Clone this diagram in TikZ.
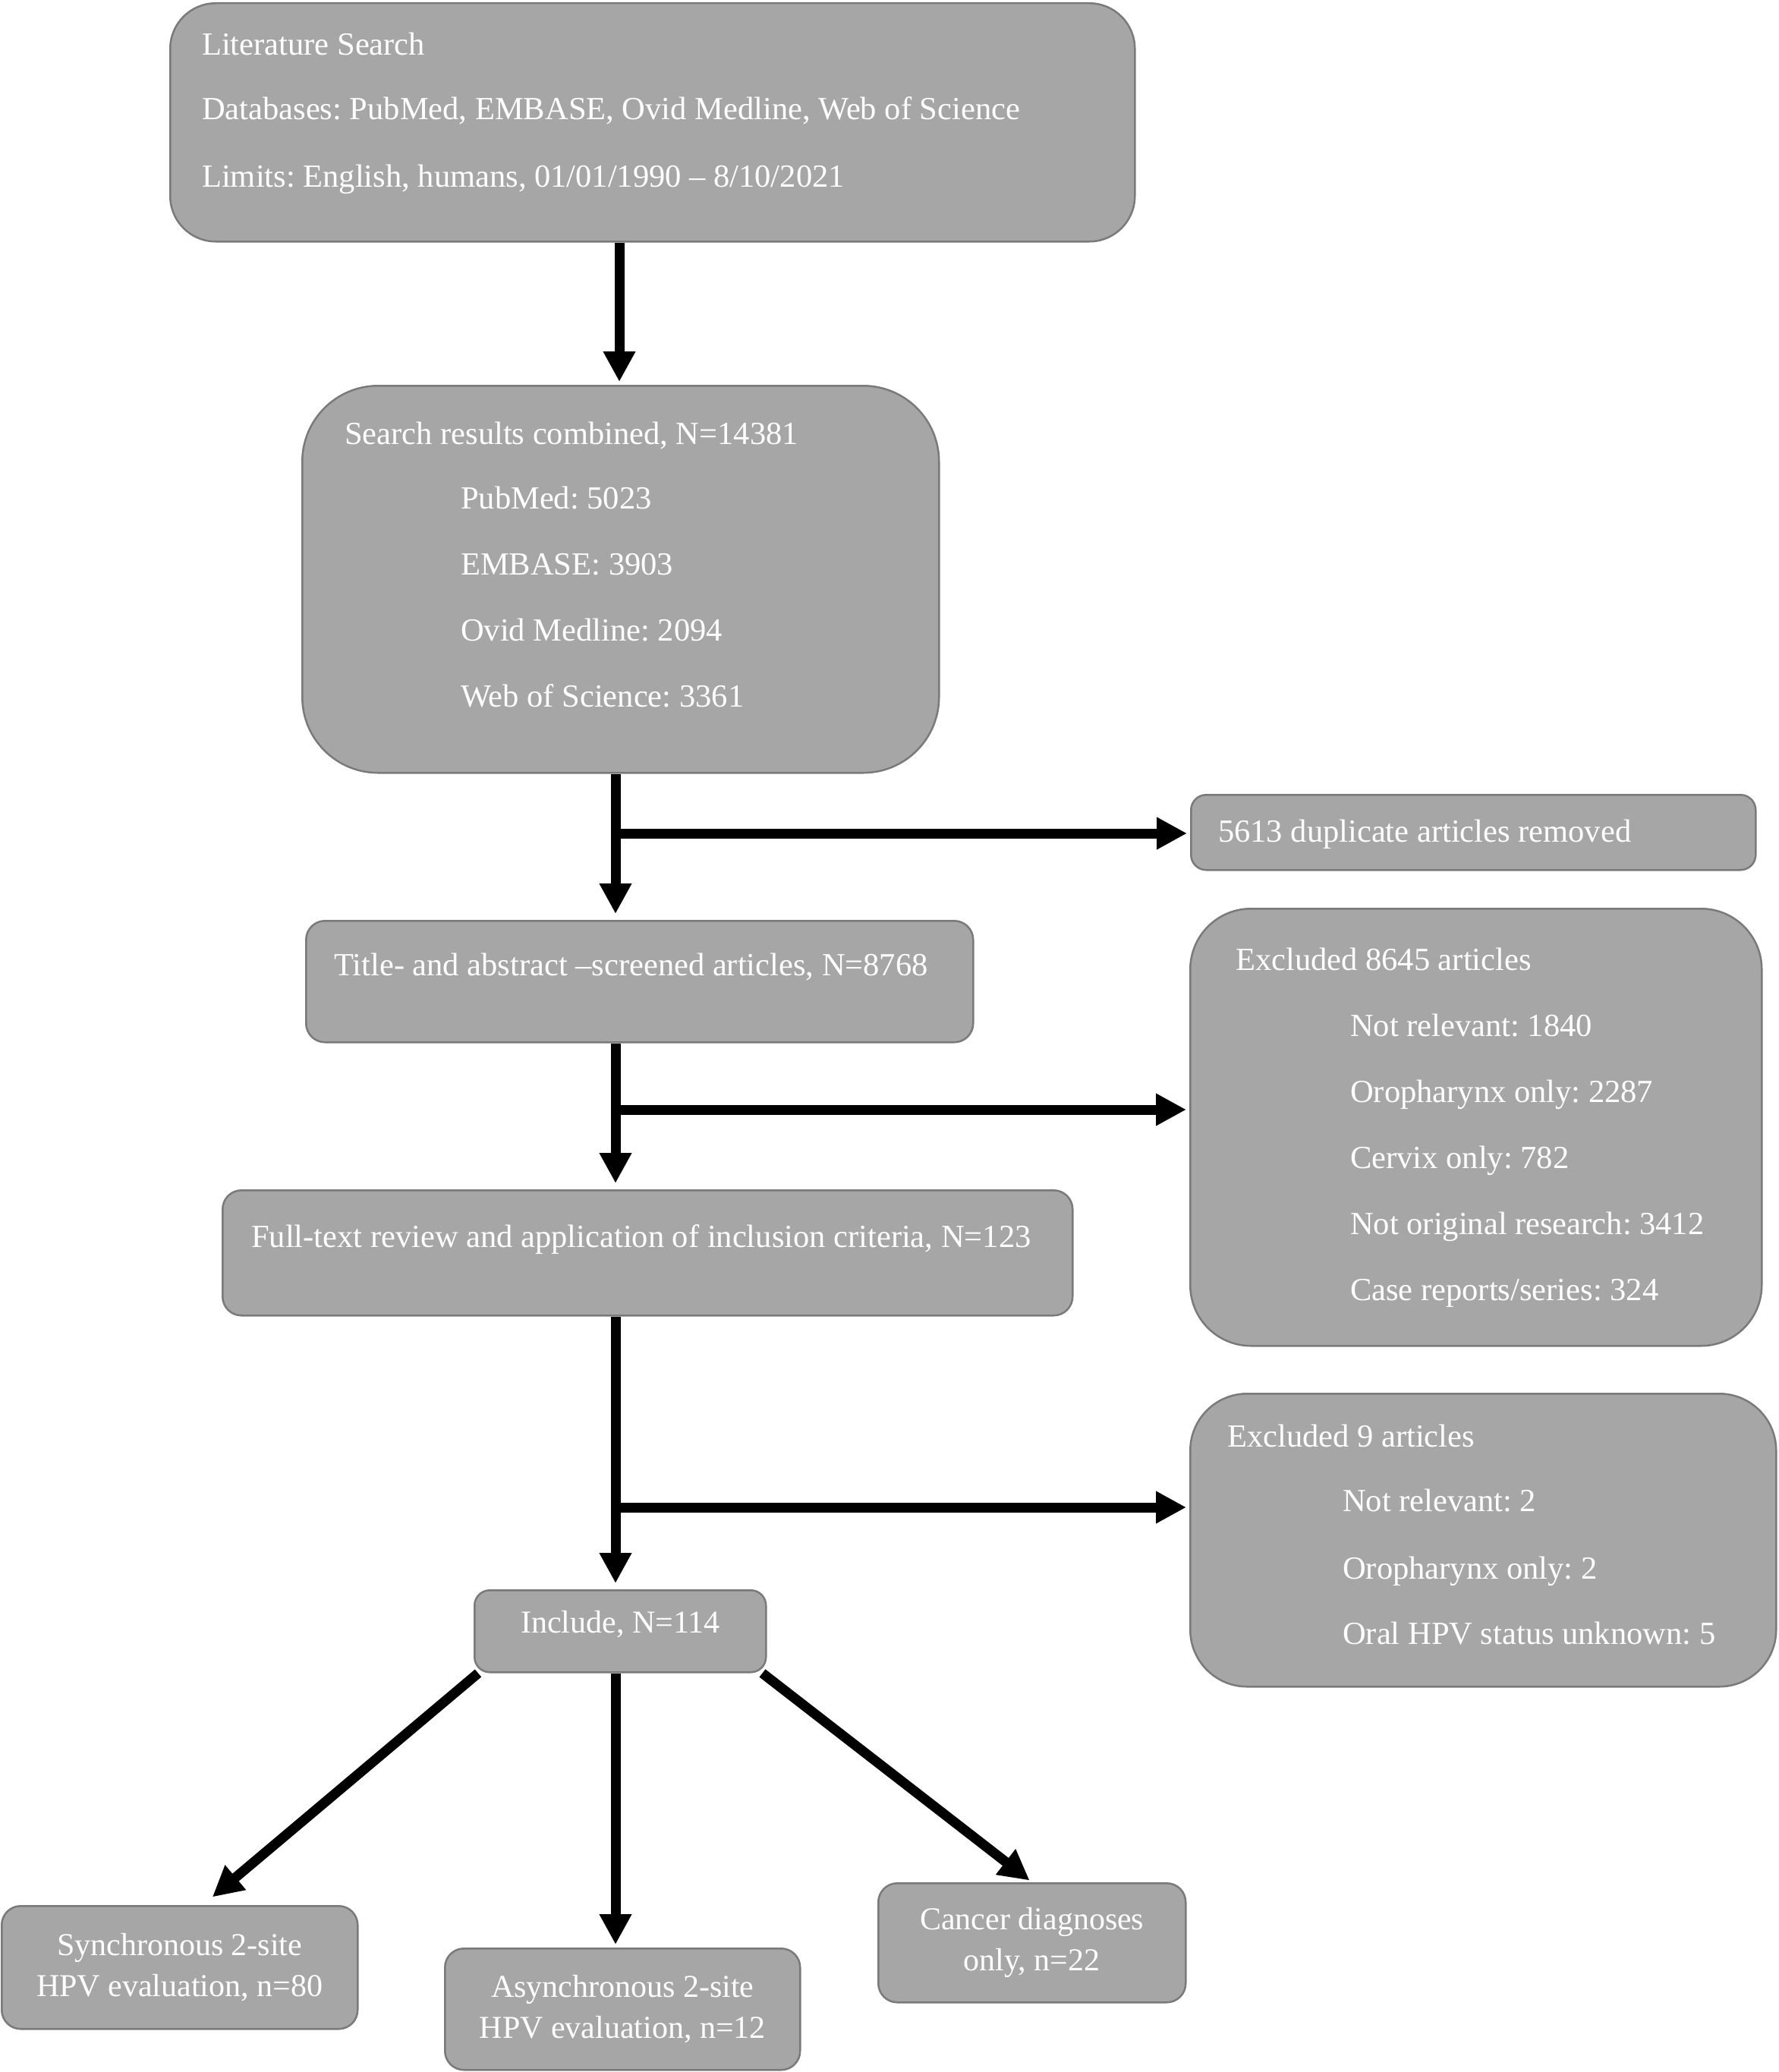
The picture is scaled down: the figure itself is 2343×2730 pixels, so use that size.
\documentclass[tikz,border=0pt]{standalone}
\usepackage{fontspec}
\setmainfont{Liberation Serif}
\usetikzlibrary{arrows.meta,calc}
\definecolor{boxfill}{HTML}{A6A6A6}
\definecolor{boxline}{HTML}{7A7A7A}
\frenchspacing
\begin{document}
\begin{tikzpicture}[x=1pt,y=-1pt,
  box/.style={draw=boxline,line width=2.5pt,fill=boxfill,inner sep=0pt,anchor=north west,
     text=white,align=center,font=\fontsize{42}{54}\selectfont},
  txt/.style={anchor=base west,inner sep=0pt,text=white,font=\fontsize{42.5}{50}\selectfont},
  arr/.style={line width=13pt,-{Triangle[width=40pt,length=40pt]},shorten >=4pt}]
\useasboundingbox (0,0) rectangle (2343,2730);
% boxes
\node[box,rounded corners=60pt,minimum width=1271pt,minimum height=314pt] (lit) at (223,3) {};
\node[box,rounded corners=100pt,minimum width=839pt,minimum height=510pt] (res) at (397,507) {};
\node[box,rounded corners=20pt,minimum width=744pt,minimum height=99pt] (dup) at (1568,1046) {};
\node[box,rounded corners=25pt,minimum width=879pt,minimum height=160pt] (title) at (402,1212) {};
\node[box,rounded corners=80pt,minimum width=753pt,minimum height=576pt] (exa) at (1567,1196) {};
\node[box,rounded corners=25pt,minimum width=1120pt,minimum height=165pt] (full) at (292,1567) {};
\node[box,rounded corners=75pt,minimum width=772pt,minimum height=386pt] (exb) at (1567,1835) {};
\node[box,rounded corners=20pt,minimum width=384pt,minimum height=108pt,text depth=25pt] (inc) at (624,2094) {Include, N=114};
\node[box,rounded corners=25pt,minimum width=469pt,minimum height=162pt] (sync) at (1,2510) {Synchronous 2-site\\HPV evaluation, n=80};
\node[box,rounded corners=25pt,minimum width=468pt,minimum height=160pt] (async) at (585,2566) {Asynchronous 2-site\\HPV evaluation, n=12};
\node[box,rounded corners=25pt,minimum width=405pt,minimum height=157pt] (canc) at (1156,2480) {Cancer diagnoses\\only, n=22};
% texts
\node[txt] (t1) at (266,73) {Literature Search};
\node[txt] (t2) at (266,157) {Databases: PubMed, EMBASE, Ovid Medline, Web of Science};
\node[txt] (t3) at (266,246) {Limits: English, humans, 01/01/1990 – 8/10/2021};
\node[txt] (r1) at (454,585) {Search results combined, N=14381};
\node[txt] (r2) at (607,670) {PubMed: 5023};
\node[txt] (r3) at (607,757) {EMBASE: 3903};
\node[txt] (r4) at (607,844) {Ovid Medline: 2094};
\node[txt] (r5) at (607,931) {Web of Science: 3361};
\node[txt] (d1) at (1605,1109) {5613 duplicate articles removed};
\node[txt] (s1) at (440,1285) {Title- and abstract –screened articles, N=8768};
\node[txt] (e1) at (1628,1278) {Excluded 8645 articles};
\node[txt] (e2) at (1779,1365) {Not relevant: 1840};
\node[txt] (e3) at (1779,1452) {Oropharynx only: 2287};
\node[txt] (e4) at (1779,1539) {Cervix only: 782};
\node[txt] (e5) at (1779,1626) {Not original research: 3412};
\node[txt] (e6) at (1779,1713) {Case reports/series: 324};
\node[txt] (f1) at (331,1643) {Full-text review and application of inclusion criteria, N=123};
\node[txt] (g1) at (1617,1906) {Excluded 9 articles};
\node[txt] (g2) at (1769,1991) {Not relevant: 2};
\node[txt] (g3) at (1769,2080) {Oropharynx only: 2};
\node[txt] (g4) at (1769,2166) {Oral HPV status unknown: 5};
% connectors
\coordinate (spa) at (816,0);
\coordinate (sp) at (811,0);
\coordinate (b1) at (811,1098);
\coordinate (b2) at (811,1462);
\coordinate (b3) at (811,1986);
\draw[arr] (lit.south -| spa) -- (res.north -| spa);
\draw[arr,shorten >=8pt] (res.south -| sp) -- (title.north -| sp);
\draw[arr] (b1) -- (b1 -| dup.west);
\draw[arr,shorten >=8pt] (title.south -| sp) -- (full.north -| sp);
\draw[arr] (b2) -- (b2 -| exa.west);
\draw[arr,shorten >=8pt] (full.south -| sp) -- (inc.north -| sp);
\draw[arr] (b3) -- (b3 -| exb.west);
\draw[arr] ($(inc.south west)+(6,0)$) -- ($(sync.north)+(40,-8)$);
\draw[arr] (inc.south -| sp) -- (async.north -| sp);
\draw[arr] ($(inc.south east)+(-6,0)$) -- (canc.north);
\end{tikzpicture}
\end{document}
